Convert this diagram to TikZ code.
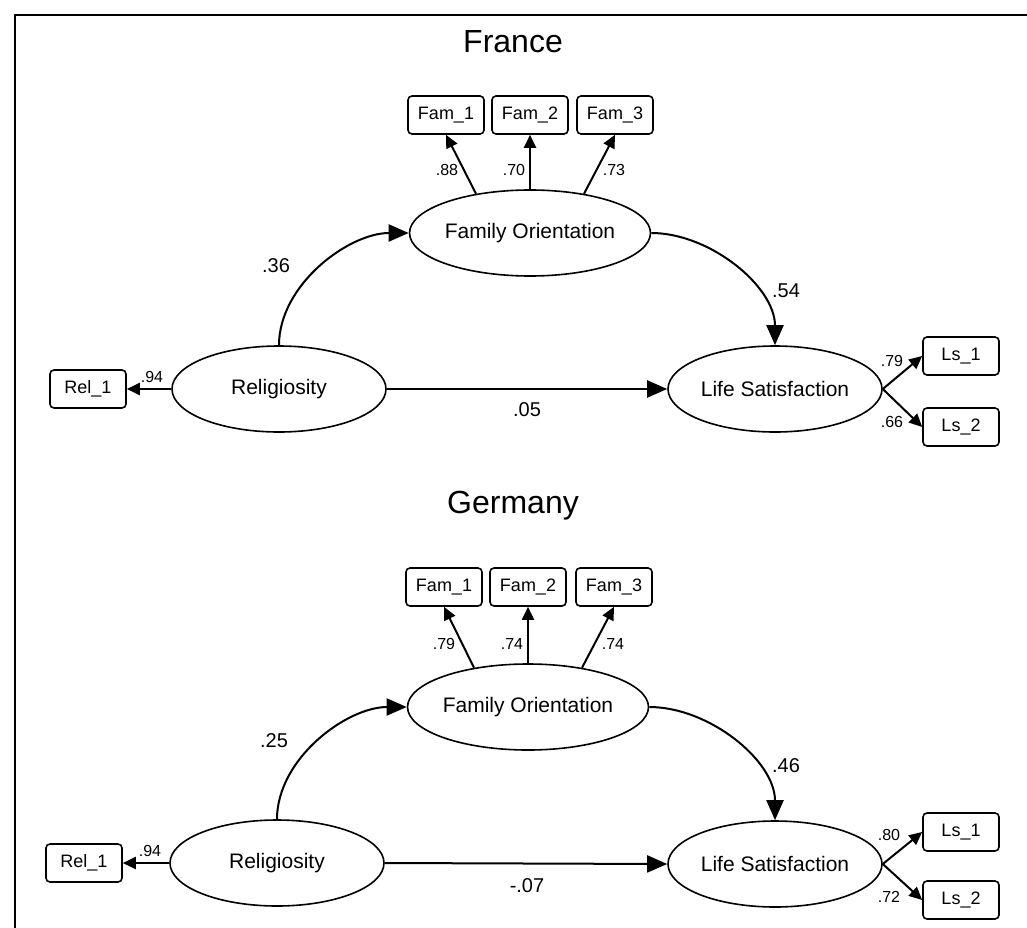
\documentclass[tikz,border=0pt]{standalone}
\usepackage{fontspec}
\setmainfont{Liberation Sans}
\usetikzlibrary{shapes.geometric,arrows.meta}

\tikzset{
  latent/.style={draw,ellipse,line width=1.6pt,minimum width=214pt,minimum height=86pt,inner sep=0pt,font=\fontsize{21}{24}\selectfont},
  obs/.style={draw,rounded corners=4pt,line width=1.6pt,minimum width=76pt,minimum height=38pt,inner sep=0pt,font=\fontsize{18}{20}\selectfont},
  reg/.style={-{Triangle[length=20pt,width=17pt]},line width=2pt},
  load/.style={-{Triangle[length=13pt,width=12pt]},line width=2pt},
  coef/.style={font=\fontsize{20}{22}\selectfont,inner sep=0pt},
  lcoef/.style={font=\fontsize{16}{18}\selectfont,inner sep=0pt},
  title/.style={font=\fontsize{32}{36}\selectfont}
}

\begin{document}
\begin{tikzpicture}[x=1pt,y=-1pt]
\useasboundingbox (0,0) rectangle (1027,928);
\draw [line width=1.8pt] (15,928) -- (15,15) -- (1027,15);

% France
\node[title] (titleF) at (513,42) {France};
\node[obs] (fam1F) at (446,115) {Fam\_1};
\node[obs] (fam2F) at (530,115) {Fam\_2};
\node[obs] (fam3F) at (615,115) {Fam\_3};
\node[latent] (foF) at (530,233) {Family Orientation};
\node[latent] (relF) at (279,389) {Religiosity};
\node[latent] (lsF) at (775,389) {Life Satisfaction};
\node[obs] (rel1F) at (88,389) {Rel\_1};
\node[obs] (ls1F) at (961,356) {Ls\_1};
\node[obs] (ls2F) at (961,427) {Ls\_2};

\draw [load] (foF.144) -- (fam1F.south);
\draw [load] (foF.north) -- (fam2F.south);
\draw [load] (foF.36) -- (fam3F.south);
\draw [load] (relF.west) -- (rel1F.east);
\draw [load] (lsF.east) -- (ls1F.west);
\draw [load] (lsF.east) -- (ls2F.west);
\draw [reg] (relF.north) to[out=90,in=180,looseness=0.9] (foF.west);
\draw [reg] (foF.east) to[out=0,in=90,looseness=0.9] (lsF.north);
\draw [reg] (relF.east) -- (lsF.west);

\node[lcoef] (l1F) at (447,170) {.88};
\node[lcoef] (l2F) at (514,170) {.70};
\node[lcoef] (l3F) at (614,170) {.73};
\node[lcoef] (l4F) at (152,377) {.94};
\node[lcoef] (l5F) at (892,361) {.79};
\node[lcoef] (l6F) at (892,422) {.66};
\node[coef] (b1F) at (276,266) {.36};
\node[coef] (b2F) at (786,291) {.54};
\node[coef] (b3F) at (527,410) {.05};

% Germany
\node[title] (titleG) at (513,506) {Germany};
\node[obs] (fam1G) at (444,587) {Fam\_1};
\node[obs] (fam2G) at (528,587) {Fam\_2};
\node[obs] (fam3G) at (614,587) {Fam\_3};
\node[latent] (foG) at (528,707) {Family Orientation};
\node[latent] (relG) at (277,863) {Religiosity};
\node[latent] (lsG) at (775,864) {Life Satisfaction};
\node[obs] (rel1G) at (84,863) {Rel\_1};
\node[obs] (ls1G) at (961,832) {Ls\_1};
\node[obs] (ls2G) at (961,900) {Ls\_2};

\draw [load] (foG.144) -- (fam1G.south);
\draw [load] (foG.north) -- (fam2G.south);
\draw [load] (foG.36) -- (fam3G.south);
\draw [load] (relG.west) -- (rel1G.east);
\draw [load] (lsG.east) -- (ls1G.west);
\draw [load] (lsG.east) -- (ls2G.west);
\draw [reg] (relG.north) to[out=90,in=180,looseness=0.9] (foG.west);
\draw [reg] (foG.east) to[out=0,in=90,looseness=0.9] (lsG.north);
\draw [reg] (relG.east) -- (lsG.west);

\node[lcoef] (l1G) at (444,644) {.79};
\node[lcoef] (l2G) at (512,644) {.74};
\node[lcoef] (l3G) at (613,644) {.74};
\node[lcoef] (l4G) at (150,851) {.94};
\node[lcoef] (l5G) at (889,835) {.80};
\node[lcoef] (l6G) at (889,897) {.72};
\node[coef] (b1G) at (274,741) {.25};
\node[coef] (b2G) at (786,766) {.46};
\node[coef] (b3G) at (527,886) {-.07};
\end{tikzpicture}
\end{document}
